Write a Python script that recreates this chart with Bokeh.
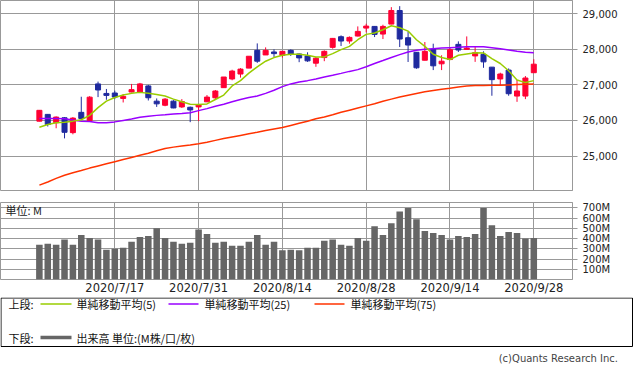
from bokeh.plotting import figure
from bokeh.models import Range1d, FixedTicker, NumeralTickFormatter, Grid, Label, ColumnDataSource
from bokeh.layouts import column
from bokeh.embed import file_html
from bokeh.resources import INLINE
from bokeh.core.properties import value

# ---------------- data ----------------
dates = ["2020/7/6", "2020/7/7", "2020/7/8", "2020/7/9", "2020/7/10", "2020/7/13", "2020/7/14", "2020/7/15", "2020/7/16", "2020/7/17",
         "2020/7/20", "2020/7/21", "2020/7/22", "2020/7/23", "2020/7/24", "2020/7/27", "2020/7/28", "2020/7/29", "2020/7/30", "2020/7/31",
         "2020/8/3", "2020/8/4", "2020/8/5", "2020/8/6", "2020/8/7", "2020/8/10", "2020/8/11", "2020/8/12", "2020/8/13", "2020/8/14",
         "2020/8/17", "2020/8/18", "2020/8/19", "2020/8/20", "2020/8/21", "2020/8/24", "2020/8/25", "2020/8/26", "2020/8/27", "2020/8/28",
         "2020/8/31", "2020/9/1", "2020/9/2", "2020/9/3", "2020/9/4", "2020/9/8", "2020/9/9", "2020/9/10", "2020/9/11", "2020/9/14",
         "2020/9/15", "2020/9/16", "2020/9/17", "2020/9/18", "2020/9/21", "2020/9/22", "2020/9/23", "2020/9/24", "2020/9/25", "2020/9/28"]

opens = [25980, 26171, 25936, 26076, 25657, 26228, 26000, 27028, 26760, 26772,
         26620, 26800, 26790, 26971, 26543, 26428, 26543, 26381, 26371, 26381,
         26524, 26638, 26923, 27167, 27306, 27472, 27972, 27843, 27926, 27833,
         27972, 27870, 27815, 27611, 27769, 28056, 28355, 28234, 28374, 28598,
         28645, 28430, 28710, 29093, 28327, 27917, 27694, 28000, 27593, 27713,
         28140, 28000, 27815, 27861, 27500, 27167, 27417, 26686, 26686, 27343]
highs = [26290, 26175, 26114, 26095, 26095, 26667, 26684, 27093, 26886, 26838,
         26743, 27028, 27056, 27000, 26619, 26628, 26571, 26600, 26390, 26466,
         26714, 26857, 27222, 27426, 27472, 27806, 28167, 28056, 28000, 27954,
         28000, 27880, 27917, 27787, 27972, 28320, 28393, 28364, 28645, 28720,
         28650, 28692, 29187, 29215, 28505, 27917, 28206, 28159, 27833, 28065,
         28224, 28364, 28065, 27944, 27500, 27343, 27463, 27139, 27250, 27722]
lows = [25975, 25830, 25780, 25496, 25610, 26019, 26000, 26657, 26582, 26600,
        26506, 26790, 26785, 26562, 26381, 26400, 26343, 26352, 25952, 25981,
        26520, 26590, 26920, 27130, 27204, 27470, 27620, 27840, 27787, 27769,
        27815, 27639, 27648, 27509, 27667, 28019, 28093, 28159, 28364, 28477,
        28346, 28290, 28705, 28065, 27645, 27454, 27690, 27417, 27417, 27710,
        27926, 27995, 27648, 27481, 26695, 26981, 26695, 26524, 26600, 27340]
closes = [26285, 25886, 26095, 25667, 26066, 26057, 26655, 26857, 26705, 26658,
          26677, 26867, 27028, 26638, 26467, 26600, 26352, 26533, 26295, 26447,
          26657, 26828, 27222, 27389, 27444, 27806, 27667, 27972, 27880, 27944,
          27861, 27759, 27676, 27750, 27944, 28308, 28234, 28336, 28505, 28654,
          28421, 28645, 29093, 28290, 28121, 27481, 27944, 27537, 27667, 27991,
          27981, 28037, 27907, 27648, 27148, 27306, 26752, 26829, 27194, 27583]

ma5 = [25810, 25886, 25933, 25952, 25981, 26019, 26143, 26362, 26543, 26647,
       26714, 26762, 26790, 26762, 26733, 26686, 26600, 26524, 26457, 26447,
       26466, 26590, 26714, 26971, 27120, 27330, 27509, 27667, 27769, 27833,
       27861, 27861, 27833, 27787, 27787, 27880, 27991, 28084, 28271, 28421,
       28458, 28551, 28664, 28608, 28514, 28271, 28084, 27861, 27769, 27713,
       27833, 27870, 27907, 27898, 27741, 27602, 27398, 27139, 27065, 27120]
ma25 = [26057, 26057, 26057, 26048, 26010, 25981, 25970, 25933, 25933, 25960,
        26000, 26040, 26090, 26120, 26143, 26162, 26185, 26195, 26219, 26276,
        26333, 26400, 26457, 26524, 26590, 26645, 26686, 26762, 26848, 26952,
        27028, 27083, 27120, 27167, 27222, 27269, 27324, 27380, 27430, 27509,
        27602, 27685, 27769, 27852, 27926, 27972, 28000, 28019, 28037, 28047,
        28056, 28070, 28075, 28075, 28047, 28019, 27981, 27944, 27917, 27907]
ma75 = [24180, 24270, 24370, 24460, 24530, 24590, 24660, 24720, 24780, 24840,
        24900, 24960, 25020, 25080, 25150, 25210, 25250, 25280, 25310, 25345,
        25390, 25440, 25490, 25535, 25580, 25625, 25670, 25720, 25760, 25800,
        25860, 25920, 25980, 26050, 26095, 26160, 26230, 26290, 26350, 26410,
        26470, 26540, 26600, 26660, 26710, 26760, 26805, 26840, 26875, 26905,
        26940, 26970, 26980, 26985, 26988, 26990, 27000, 27010, 27020, 27028]

volumes = [340, 350, 340, 390, 340, 435, 405, 390, 290, 300,
           310, 370, 415, 425, 500, 405, 370, 350, 360, 490,
           445, 360, 370, 330, 330, 370, 435, 340, 370, 285,
           290, 285, 310, 310, 380, 390, 340, 330, 405, 380,
           520, 435, 550, 665, 700, 590, 475, 455, 435, 390,
           425, 415, 445, 700, 530, 425, 465, 455, 400, 405]

x_tick_labels = ["2020/7/17", "2020/7/31", "2020/8/14", "2020/8/28", "2020/9/14", "2020/9/28"]
price_ticks = [25000, 26000, 27000, 28000, 29000]
vol_ticks = [100, 200, 300, 400, 500, 600, 700]
vol_tick_labels = ["100M", "200M", "300M", "400M", "500M", "600M", "700M"]

legend_upper = ["単純移動平均(5)", "単純移動平均(25)", "単純移動平均(75)"]
legend_lower = "出来高 単位:(M株/口/枚)"

# ---------------- styling ----------------
GRID = "#999999"
UP = "#FF0033"
DOWN = "#1F2A9E"
C5, C25, C75 = "#99CC00", "#9900FF", "#FF3300"
VOLC = "#666666"
JP = "Noto Sans CJK JP"
NUM = "DejaVu Sans"
W = 633

idx = list(range(len(dates)))
tick_pos = [dates.index(d) for d in x_tick_labels]

xr = Range1d(-4.64, 63.62)

# ---------------- price panel ----------------
p = figure(width=W, height=196, x_range=xr, y_range=Range1d(24030, 29374),
           output_backend="svg", toolbar_location=None, title=None,
           x_axis_location=None, y_axis_location="right",
           min_border_left=0, min_border_top=0, min_border_bottom=6, min_border_right=61,
           outline_line_color=GRID, outline_line_width=1)
p.xgrid.visible = False          # default grid of the hidden x axis
p.ygrid.grid_line_color = GRID
p.add_layout(Grid(dimension=0, ticker=FixedTicker(ticks=tick_pos), grid_line_color=GRID))
ax = p.yaxis[0]
ax.ticker = FixedTicker(ticks=price_ticks)
ax.formatter = NumeralTickFormatter(format="0,0")
ax.major_tick_out = 5
ax.major_tick_in = 0
ax.minor_tick_line_color = None
ax.axis_line_color = GRID
ax.major_tick_line_color = GRID
ax.major_label_standoff = 5
ax.major_label_text_font = NUM
ax.major_label_text_font_size = "10px"
ax.major_label_text_color = "#222222"

src = ColumnDataSource(dict(
    x=idx, h=highs, l=lows,
    top=[max(o, c) for o, c in zip(opens, closes)],
    bottom=[min(o, c) for o, c in zip(opens, closes)],
    color=[UP if c >= o else DOWN for o, c in zip(opens, closes)],
))
p.segment(x0="x", y0="h", x1="x", y1="l", line_color="color", line_width=1, source=src)
p.vbar(x="x", width=0.6, top="top", bottom="bottom", fill_color="color",
       line_color="color", line_width=1, source=src)

p.line(idx, ma75, line_color=C75, line_width=1.5)
p.line(idx, ma25, line_color=C25, line_width=1.5)
p.line(idx, ma5, line_color=C5, line_width=1.5)

# ---------------- volume panel ----------------
v = figure(width=W, height=101, x_range=xr, y_range=Range1d(0, 753),
           output_backend="svg", toolbar_location=None, title=None,
           y_axis_location="right",
           min_border_left=0, min_border_top=6, min_border_bottom=16, min_border_right=61,
           outline_line_color=GRID, outline_line_width=1)
v.vbar(x=idx, top=volumes, width=0.78, fill_color=VOLC, line_color=None)
v.xgrid.grid_line_color = GRID
v.ygrid.grid_line_color = GRID
xa = v.xaxis[0]
xa.ticker = FixedTicker(ticks=tick_pos)
xa.major_label_overrides = {t: s for t, s in zip(tick_pos, x_tick_labels)}
xa.axis_line_color = None
xa.major_tick_line_color = None
xa.minor_tick_line_color = None
xa.major_tick_out = 0
xa.major_tick_in = 0
xa.major_label_standoff = 1
xa.major_label_text_font = NUM
xa.major_label_text_font_size = "11.5px"
xa.major_label_text_color = "#222222"
ya = v.yaxis[0]
ya.ticker = FixedTicker(ticks=vol_ticks)
ya.major_label_overrides = {t: s for t, s in zip(vol_ticks, vol_tick_labels)}
ya.major_tick_out = 5
ya.major_tick_in = 0
ya.minor_tick_line_color = None
ya.axis_line_color = GRID
ya.major_tick_line_color = GRID
ya.major_label_standoff = 5
ya.major_label_text_font = NUM
ya.major_label_text_font_size = "10px"
ya.major_label_text_color = "#222222"
v.add_layout(Label(x=-4.05, y=684, text="単位: M", text_font=JP, text_font_size="11px",
                   text_baseline="middle", text_color="#222222"))

# ---------------- legend strip ----------------
LH = 76
lg = figure(width=W, height=LH, x_range=Range1d(0, W), y_range=Range1d(LH, 0),
            output_backend="svg", toolbar_location=None, title=None,
            x_axis_location=None, y_axis_location=None, min_border=0,
            min_border_left=0, min_border_right=0, min_border_top=0, min_border_bottom=0,
            outline_line_color=None)
lg.xgrid.visible = False
lg.ygrid.visible = False
if "frame_align" in lg.properties():
    lg.frame_align = False
lg.quad(left=[0.5], right=[632], top=[0.5], bottom=[49], fill_color=None, line_color="black", line_width=1)
r1, r2 = 6.5, 40
lg.text(x=[8, 76, 204, 350], y=[r1] * 4, text=["上段:"] + legend_upper,
        text_font=value(JP), text_font_size=value("11px"), text_baseline="middle", text_color="#111111")
lg.segment(x0=[40, 168, 314], y0=[r1] * 3, x1=[71, 198, 344], y1=[r1] * 3,
           line_color=[C5, C25, C75], line_width=1.5)
lg.text(x=[8, 76], y=[r2] * 2, text=["下段:", legend_lower],
        text_font=value(JP), text_font_size=value("11px"), text_baseline="middle", text_color="#111111")
lg.segment(x0=[40], y0=[r2], x1=[71], y1=[r2], line_color=VOLC, line_width=3.5)
lg.text(x=[617.5], y=[60.7], text=["(c)Quants Research Inc."], text_font=value(NUM),
        text_font_size=value("10px"), text_align="right", text_baseline="middle", text_color="#444444")

layout = column(p, v, lg)
open("out.html", "w").write(file_html(layout, INLINE))
